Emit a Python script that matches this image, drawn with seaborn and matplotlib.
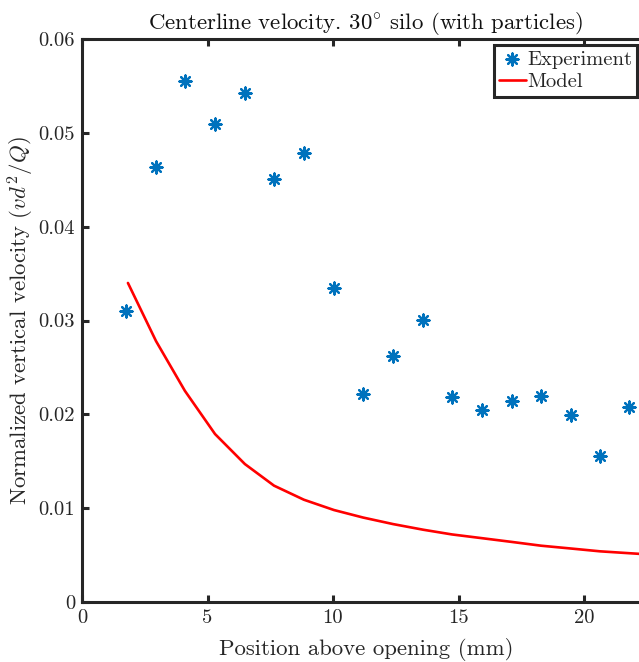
import matplotlib
matplotlib.use("Agg")
import matplotlib.pyplot as plt
import seaborn as sns
import pandas as pd
from matplotlib.ticker import FixedLocator, FuncFormatter

position_mm = [1.75, 2.95, 4.10, 5.30, 6.49, 7.65, 8.84, 10.04, 11.20, 12.40,
               13.60, 14.74, 15.94, 17.13, 18.29, 19.48, 20.64, 21.80]
experiment = [0.0310, 0.0464, 0.0555, 0.0509, 0.0542, 0.0451, 0.0479, 0.0335,
              0.0222, 0.0262, 0.0301, 0.0218, 0.0205, 0.0214, 0.0220, 0.0199,
              0.0156, 0.0208]
model_pos = [1.83, 2.95, 4.10, 5.30, 6.49, 7.65, 8.84, 10.04, 11.20, 12.40,
             13.60, 14.74, 15.94, 17.13, 18.29, 19.48, 20.64, 21.80, 22.98]
model = [0.0340, 0.0278, 0.0225, 0.0179, 0.0147, 0.0124, 0.0109, 0.0098,
         0.0090, 0.0083, 0.0077, 0.0072, 0.0068, 0.0064, 0.0060, 0.0057,
         0.0054, 0.0052, 0.0050]
x_ticks = [0, 5, 10, 15, 20]
y_ticks = [0, 0.01, 0.02, 0.03, 0.04, 0.05, 0.06]

sns.set_style("ticks")
plt.rcParams["font.family"] = ["cmr10", "DejaVu Serif"]
plt.rcParams["mathtext.fontset"] = "cm"
plt.rcParams["axes.unicode_minus"] = False

fig = plt.figure(figsize=(6.39, 6.62), dpi=100)
W, H = 639, 662
left, right, top, bottom = 82, 650, 39, 602
ax = fig.add_axes([left / W, 1 - bottom / H, (right - left) / W, (bottom - top) / H])

df_exp = pd.DataFrame({"x": position_mm, "y": experiment})
df_mod = pd.DataFrame({"x": model_pos, "y": model})

sns.lineplot(data=df_mod, x="x", y="y", ax=ax, color="#FF0000", linewidth=1.9,
             label="Model", sort=False)
sns.scatterplot(data=df_exp, x="x", y="y", ax=ax, marker=(8, 2, 0), s=75,
                color="#0072BD", edgecolor="#0072BD", linewidth=1.6,
                label="Experiment", zorder=3)

ax.set_xlim(0, (right - left) / 25.1)
ax.set_ylim(0, 0.06)
ax.xaxis.set_major_locator(FixedLocator(x_ticks))
ax.yaxis.set_major_locator(FixedLocator(y_ticks))
ax.yaxis.set_major_formatter(FuncFormatter(lambda v, p: "0" if v == 0 else f"{v:.2f}"))
ax.xaxis.set_major_formatter(FuncFormatter(lambda v, p: f"{v:g}"))

for s in ax.spines.values():
    s.set_linewidth(2.2)
    s.set_color("#262626")
ax.tick_params(direction="in", length=5, width=2.2, color="#262626",
               labelsize=14.8, labelcolor="#262626", top=True, right=True, pad=5)

ax.set_xlabel("Position above opening (mm)", fontsize=16.4, color="#262626", labelpad=8)
ax.set_ylabel(r"Normalized vertical velocity $(vd^2/Q)$", fontsize=16.4,
              color="#262626", labelpad=1.5)
ax.set_title(r"Centerline velocity. $30^{\circ}$ silo (with particles)",
             fontsize=16.4, color="#111111", pad=7)

ax.get_legend().remove()
handles, labels = ax.get_legend_handles_labels()
order = [labels.index("Experiment"), labels.index("Model")]
leg = fig.legend([handles[i] for i in order], [labels[i] for i in order],
                 loc="upper right", bbox_to_anchor=(637 / W, 1 - 45 / H),
                 fontsize=14.8, frameon=True, fancybox=False, borderpad=0.25,
                 handlelength=1.3, handletextpad=0.05, labelspacing=0.22,
                 borderaxespad=0)
leg.get_frame().set_edgecolor("#262626")
leg.get_frame().set_linewidth(2.2)
leg.get_frame().set_alpha(1)

fig.savefig("out.png", dpi=100)
